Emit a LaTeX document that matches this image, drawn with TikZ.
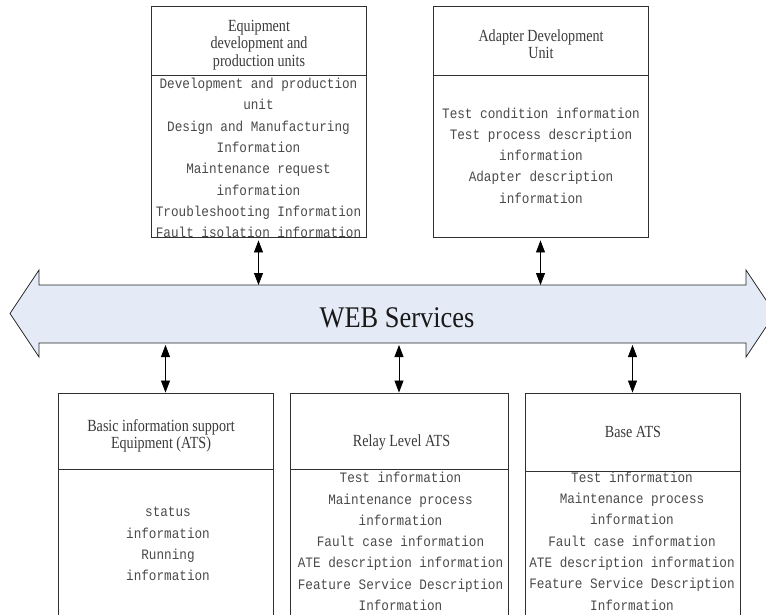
\documentclass[tikz,border=0pt]{standalone}
\usepackage{fontspec}
\setmainfont{Liberation Serif}
\newfontfamily\hdfont[FakeStretch=0.83]{Liberation Serif}
\newfontfamily\webfont[FakeStretch=0.88]{Liberation Serif}
\newfontfamily\bdfont[FakeStretch=0.88]{Liberation Mono}
\usetikzlibrary{arrows.meta}
\definecolor{busfill}{HTML}{E4EBF6}
\definecolor{hdtext}{HTML}{3A3A3A}
\definecolor{bdtext}{HTML}{4A4A4A}
\definecolor{boxline}{HTML}{303030}
\begin{document}
\begin{tikzpicture}[x=1pt,y=-1pt,
  box/.style={draw=boxline, line width=0.9pt, inner sep=0pt},
  hbox/.style={box, fill=white},
  hdtxt/.style={font=\hdfont\fontsize{17}{17.5}\selectfont, text=hdtext, align=center, inner sep=0pt},
  bdtxt/.style={font=\bdfont\fontsize{14.4}{21.3}\selectfont, text=bdtext, align=center, inner sep=0pt},
  link/.style={draw=black, line width=0.8pt, {Triangle[length=12pt,width=9pt]}-{Triangle[length=12pt,width=9pt]}},
  bus/.style={draw=black!85, line width=0.8pt, fill=busfill}
]
\useasboundingbox (0,0) rectangle (766,614);
\clip (0,0) rectangle (766,614);

% bus
\draw[bus] (10,313.5) -- (39,270) -- (39,285) -- (746,285) -- (746,270) -- (775,313.5)
  -- (746,357) -- (746,343) -- (39,343) -- (39,357) -- cycle;
\node[font=\webfont\fontsize{30}{30}\selectfont, text=black!90, inner sep=0pt] (web) at (397,318) {WEB Services};
\coordinate (bustop) at (0,285);
\coordinate (busbot) at (0,345);

% top box 1
\node[box, minimum width=215pt, minimum height=162pt] (eqb) at (258.5,156) {};
\node[bdtxt] (eqbt) at (258.5,158) {Development and production\\unit\\Design and Manufacturing\\Information\\Maintenance request\\information\\Troubleshooting Information\\Fault isolation information};
\node[hbox, minimum width=215pt, minimum height=69pt] (eqh) at (258.5,40.5) {};
\node[hdtxt] (eqht) at (259,45) {Equipment\\development and\\production units};

% top box 2
\node[box, minimum width=215pt, minimum height=162pt] (adb) at (540.5,156) {};
\node[bdtxt] (adbt) at (541,155.5) {Test condition information\\Test process description\\information\\Adapter description\\information};
\node[hbox, minimum width=215pt, minimum height=69pt] (adh) at (540.5,40.5) {};
\node[hdtxt] (adht) at (541,44) {Adapter Development\\Unit};

% bottom box 1
\node[box, minimum width=215pt, minimum height=171pt] (bib) at (165.5,554.5) {};
\node[bdtxt] (bibt) at (168,544) {status\\information\\Running\\information};
\node[hbox, minimum width=215pt, minimum height=76pt] (bih) at (165.5,431) {};
\node[hdtxt] (biht) at (161,436) {Basic information support\\Equipment (ATS)};

% bottom box 2
\node[box, minimum width=218pt, minimum height=171pt] (rlb) at (399,554.5) {};
\node[bdtxt] (rlbt) at (400.5,541.5) {Test information\\Maintenance process\\information\\Fault case information\\ATE description information\\Feature Service Description\\Information};
\node[hbox, minimum width=218pt, minimum height=76pt] (rlh) at (399,431) {};
\node[hdtxt] (rlht) at (401.5,442) {Relay Level ATS};

% bottom box 3
\node[box, minimum width=215pt, minimum height=169pt] (bab) at (632.5,555.5) {};
\node[bdtxt] (babt) at (632,541) {Test information\\Maintenance process\\information\\Fault case information\\ATE description information\\Feature Service Description\\Information};
\node[hbox, minimum width=215pt, minimum height=78pt] (bah) at (632.5,432) {};
\node[hdtxt] (baht) at (633,432) {Base ATS};

% connectors
\draw[link] ([yshift=-3pt]eqb.south) -- (eqb.south |- bustop);
\draw[link] ([yshift=-3pt]adb.south) -- (adb.south |- bustop);
\draw[link] (bih.north |- busbot) -- (bih.north);
\draw[link] (rlh.north |- busbot) -- (rlh.north);
\draw[link] (bah.north |- busbot) -- (bah.north);
\end{tikzpicture}
\end{document}
